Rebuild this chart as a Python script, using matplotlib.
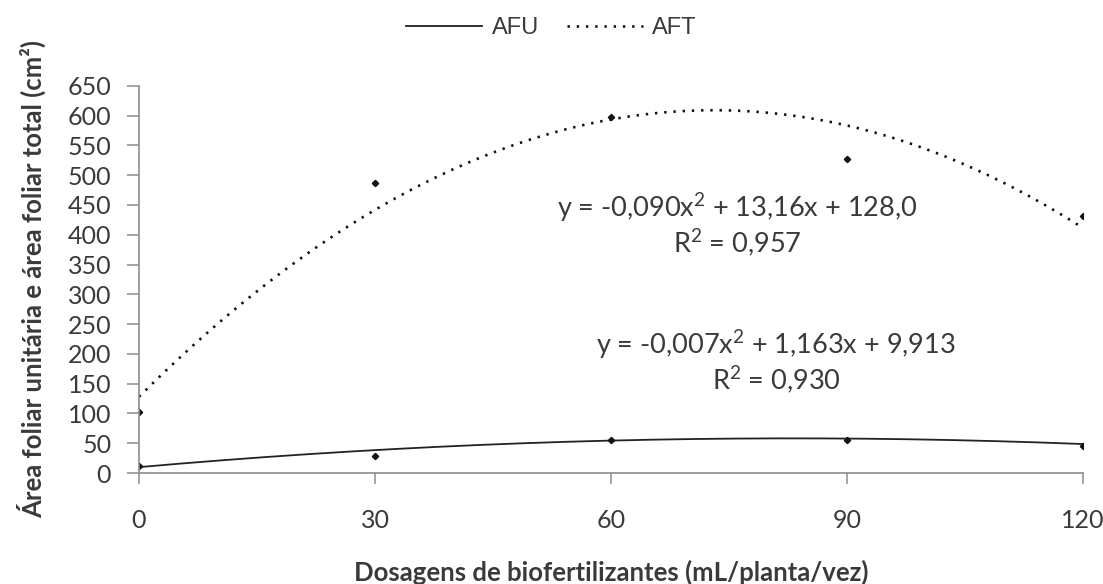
import numpy as np
import matplotlib
matplotlib.use("Agg")
import matplotlib.pyplot as plt

# data
doses = [0, 30, 60, 90, 120]
afu = [11, 28, 56, 55, 45]
aft = [102, 487, 597, 527, 432]

# trendline coefficients as printed on the chart
afu_coef = [-0.007, 1.163, 9.913]
aft_coef = [-0.090, 13.16, 128.0]
afu_eq = "y = -0,007x$^{2}$ + 1,163x + 9,913\nR$^{2}$ = 0,930"
aft_eq = "y = -0,090x$^{2}$ + 13,16x + 128,0\nR$^{2}$ = 0,957"

y_ticks = list(range(0, 651, 50))

plt.rcParams["font.family"] = ["Lato", "DejaVu Sans"]
plt.rcParams["mathtext.default"] = "regular"
txt = "#3a3a3a"

fig = plt.figure(figsize=(11.03, 5.84), dpi=100)
ax = fig.add_axes([0.126, 0.19, 0.856, 0.663])

xs = np.linspace(0, 120, 200)
ax.plot(xs, np.polyval(afu_coef, xs), color="#222222", lw=1.3, label="AFU")
ax.plot(xs, np.polyval(aft_coef, xs), color="#111111", lw=1.9,
        linestyle=(0, (0.9, 2.6)), label="AFT")
ax.plot(doses, afu, linestyle="none", marker="D", ms=3.2, color="#111111")
ax.plot(doses, aft, linestyle="none", marker="D", ms=3.2, color="#111111")

ax.set_xlim(0, 120)
ax.set_ylim(0, 650)
ax.set_xticks(doses)
ax.set_yticks(y_ticks)
for s in ["top", "right"]:
    ax.spines[s].set_visible(False)
for s in ["left", "bottom"]:
    ax.spines[s].set_color("#8c8c8c")
    ax.spines[s].set_linewidth(1.2)
ax.tick_params(axis="y", direction="out", length=9, width=1.1, color="#8c8c8c",
               labelsize=18, labelcolor=txt, pad=11)
ax.tick_params(axis="x", direction="out", length=8, width=1.1, color="#8c8c8c",
               labelsize=18, labelcolor=txt, pad=18)

ax.set_xlabel("Dosagens de biofertilizantes (mL/planta/vez)", fontsize=18.5,
              fontweight="bold", color=txt, labelpad=20)
ax.set_ylabel("Área foliar unitária e área foliar total (cm²)", fontsize=18.5,
              fontweight="bold", color=txt, labelpad=15)

ax.text(76, 416, aft_eq, ha="center", va="center", fontsize=19.5, color=txt,
        linespacing=1.15)
ax.text(81, 186, afu_eq, ha="center", va="center", fontsize=19.5, color=txt,
        linespacing=1.15)

fig.legend(loc="center", bbox_to_anchor=(0.5, 0.952), ncol=2, frameon=False,
           prop={"family": "Liberation Sans", "size": 17}, handlelength=3.2,
           handletextpad=0.4, columnspacing=1.2, labelcolor=txt)

fig.savefig("out.png", dpi=100)
